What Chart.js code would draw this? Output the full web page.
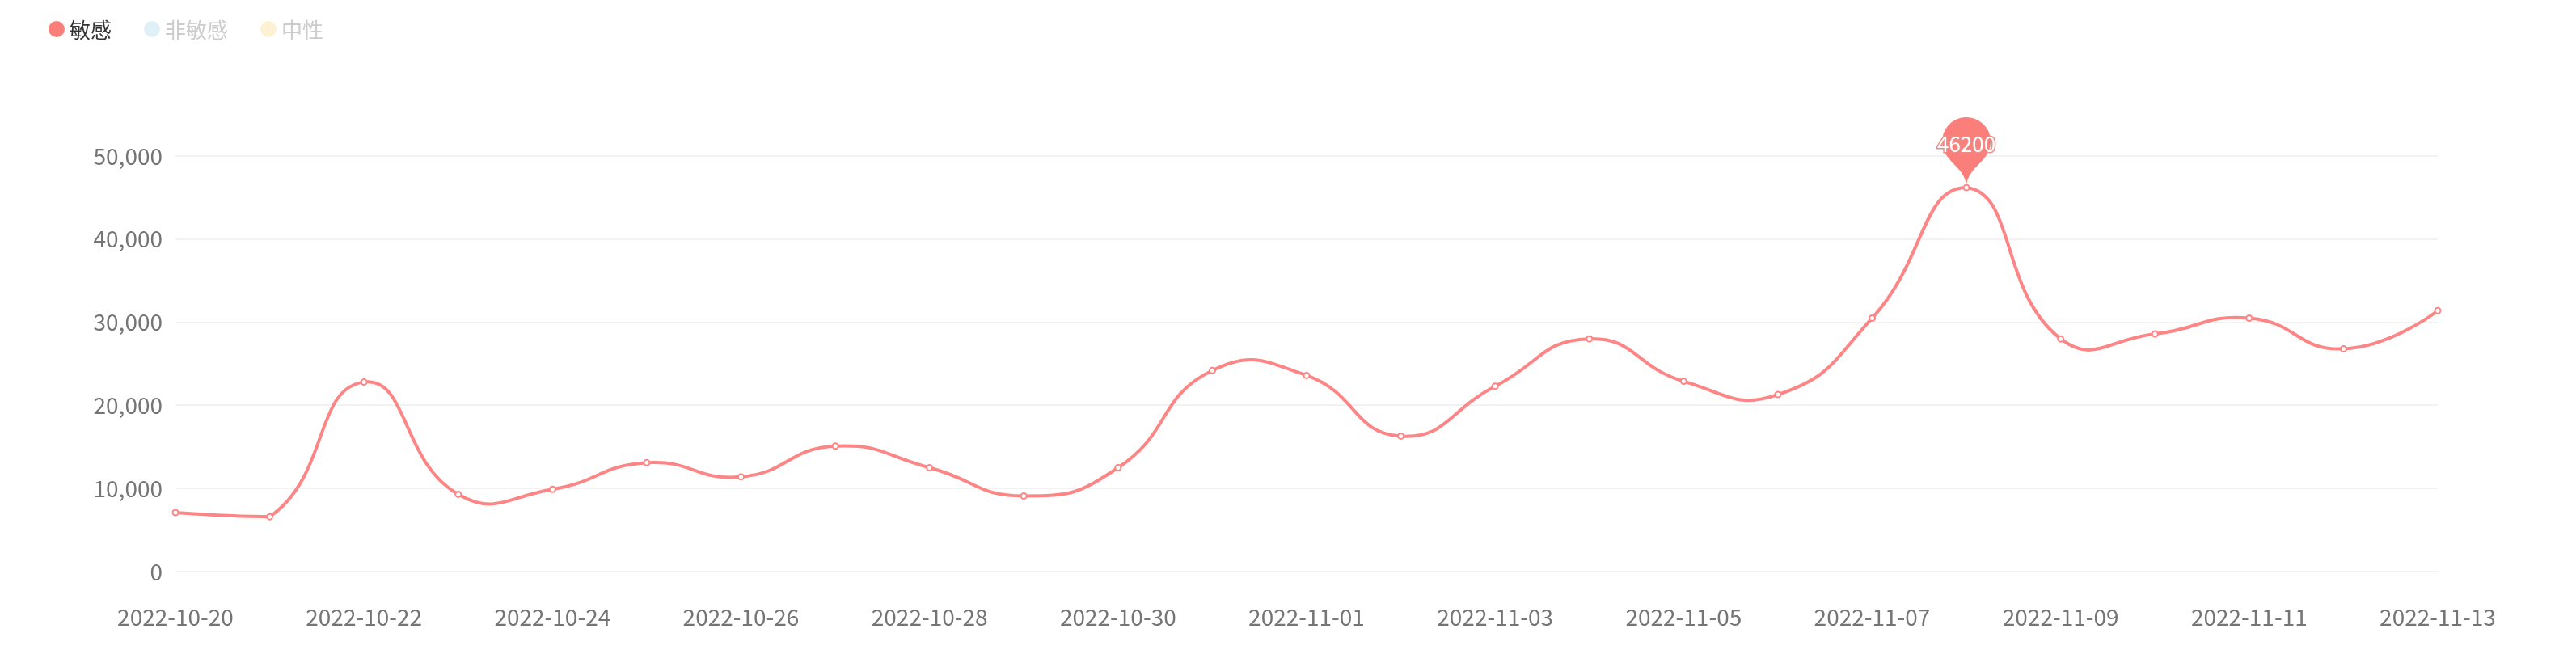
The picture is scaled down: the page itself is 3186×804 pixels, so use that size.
<!DOCTYPE html>
<html>
<head>
<meta charset="utf-8">
<title>敏感趋势</title>
<script src="https://cdn.jsdelivr.net/npm/chart.js@4.4.0/dist/chart.umd.min.js"></script>
<style>
	html, body { margin: 0; padding: 0; background: #fff; }
	#wrap { position: relative; width: 3186px; height: 804px; }
	#legend { position: absolute; left: 60px; top: 18px; display: flex; align-items: center;
		font-family: "Microsoft YaHei", "Noto Sans CJK SC", sans-serif; font-size: 26px; line-height: 36px; }
	.item { display: flex; align-items: center; margin-right: 40px; }
	.dot { width: 20px; height: 20px; border-radius: 50%; margin-right: 6px; }
</style>
</head>
<body>
<div id="wrap">
	<div id="legend"></div>
	<canvas id="lineChart" width="3186" height="804"></canvas>
</div>
<script>
// chart data -start
var dates = ['2022-10-20', '2022-10-21', '2022-10-22', '2022-10-23', '2022-10-24',
	'2022-10-25', '2022-10-26', '2022-10-27', '2022-10-28', '2022-10-29',
	'2022-10-30', '2022-10-31', '2022-11-01', '2022-11-02', '2022-11-03',
	'2022-11-04', '2022-11-05', '2022-11-06', '2022-11-07', '2022-11-08',
	'2022-11-09', '2022-11-10', '2022-11-11', '2022-11-12', '2022-11-13'];
var sensitive = [7100, 6600, 22800, 9300, 9900,
	13100, 11400, 15100, 12500, 9100,
	12500, 24200, 23600, 16300, 22300,
	28000, 22900, 21300, 30500, 46200,
	28000, 28600, 30500, 26800, 31400];
var yTicks = [0, 10000, 20000, 30000, 40000, 50000];
var legendNames = ['敏感', '非敏感', '中性'];
var legendColors = ['#fa7f7a', '#dff0f7', '#fdf1d3'];
var legendText = ['#333333', '#cccccc', '#cccccc'];
// chart data -end

var lineColor = '#fd8585';
var labelFont = { family: '"Microsoft YaHei", "Noto Sans CJK SC", sans-serif', size: 28 };

// html legend -start
var legendBox = document.getElementById('legend');
for (var i = 0; i < legendNames.length; i++) {
	var item = document.createElement('div');
	item.className = 'item';
	item.innerHTML = '<span class="dot" style="background:' + legendColors[i] + '"></span>' +
		'<span style="color:' + legendText[i] + '">' + legendNames[i] + '</span>';
	legendBox.appendChild(item);
}
// html legend -end

// keep the smoothed curve inside the points' box, flat ends -start
var smoothPlugin = {
	id: 'smoothPlugin',
	beforeDatasetsDraw: function(chart) {
		var meta = chart.getDatasetMeta(0);
		meta.dataset.updateControlPoints(chart.chartArea, 'x');
		var pts = meta.data;
		var minY = Infinity, maxY = -Infinity;
		pts.forEach(function(p) {
			minY = Math.min(minY, p.y);
			maxY = Math.max(maxY, p.y);
		});
		pts.forEach(function(p, i) {
			if (i === 0) { p.cp2x = p.x; p.cp2y = p.y; }
			if (i === pts.length - 1) { p.cp1x = p.x; p.cp1y = p.y; }
			p.cp1y = Math.min(Math.max(p.cp1y, minY), maxY);
			p.cp2y = Math.min(Math.max(p.cp2y, minY), maxY);
		});
	}
};
// keep the smoothed curve inside the points' box, flat ends -end

// max value pin -start
var pinPlugin = {
	id: 'pinPlugin',
	afterDatasetsDraw: function(chart) {
		var ctx = chart.ctx;
		var idx = sensitive.indexOf(Math.max.apply(null, sensitive));
		var x = chart.scales.x.getPixelForValue(idx);
		var y = chart.scales.y.getPixelForValue(sensitive[idx]);
		var r = 30, h = 100;
		var dy = r * r / (h - r);
		var cy = y - h + r + dy;
		var angle = Math.asin(dy / r);
		var dx = Math.cos(angle) * r;
		var tanX = Math.sin(angle), tanY = Math.cos(angle);
		var cpLen = r * 0.6, cpLen2 = r * 0.7;
		ctx.save();
		ctx.beginPath();
		ctx.moveTo(x - dx, cy + dy);
		ctx.arc(x, cy, r, Math.PI - angle, Math.PI * 2 + angle);
		ctx.bezierCurveTo(x + dx - tanX * cpLen, cy + dy + tanY * cpLen, x, y - cpLen2, x, y);
		ctx.bezierCurveTo(x, y - cpLen2, x - dx + tanX * cpLen, cy + dy + tanY * cpLen, x - dx, cy + dy);
		ctx.closePath();
		ctx.fillStyle = '#fa7f7a';
		ctx.fill();
		ctx.font = '26px "Microsoft YaHei", "Noto Sans CJK SC", sans-serif';
		ctx.textAlign = 'center';
		ctx.textBaseline = 'middle';
		ctx.lineWidth = 3;
		ctx.strokeStyle = '#f08a86';
		ctx.strokeText(String(sensitive[idx]), x, cy + 3);
		ctx.fillStyle = '#ffffff';
		ctx.fillText(String(sensitive[idx]), x, cy + 3);
		ctx.restore();
	}
};
// max value pin -end

var ctx = document.getElementById('lineChart').getContext('2d');
var lineChart = new Chart(ctx, {
	type: 'line',
	data: {
		labels: dates,
		datasets: [{
			label: legendNames[0],
			data: sensitive,
			borderColor: lineColor,
			borderWidth: 4,
			tension: 0.5,
			fill: false,
			pointRadius: 3.5,
			pointBorderWidth: 2,
			pointBorderColor: lineColor,
			pointBackgroundColor: '#ffffff'
		}]
	},
	options: {
		responsive: false,
		animation: false,
		layout: { padding: { top: 193, right: 171, left: 0, bottom: 0 } },
		plugins: {
			legend: { display: false },
			tooltip: { enabled: false }
		},
		scales: {
			x: {
				grid: { display: false },
				border: { display: false },
				afterFit: function(scale) { scale.height = 97; },
				ticks: {
					autoSkip: false,
					maxRotation: 0,
					padding: 32,
					color: '#757575',
					font: labelFont,
					callback: function(val, index) {
						return index % 2 === 0 ? dates[index] : '';
					}
				}
			},
			y: {
				min: yTicks[0],
				max: yTicks[yTicks.length - 1],
				afterFit: function(scale) { scale.width = 217; },
				border: { display: false },
				grid: { color: '#f2f2f2', lineWidth: 2, drawTicks: false },
				afterBuildTicks: function(scale) {
					scale.ticks = yTicks.map(function(v) { return { value: v }; });
				},
				ticks: {
					padding: 16,
					color: '#757575',
					font: labelFont,
					callback: function(v) { return v.toLocaleString('en-US'); }
				}
			}
		}
	},
	plugins: [smoothPlugin, pinPlugin]
});
</script>
</body>
</html>
